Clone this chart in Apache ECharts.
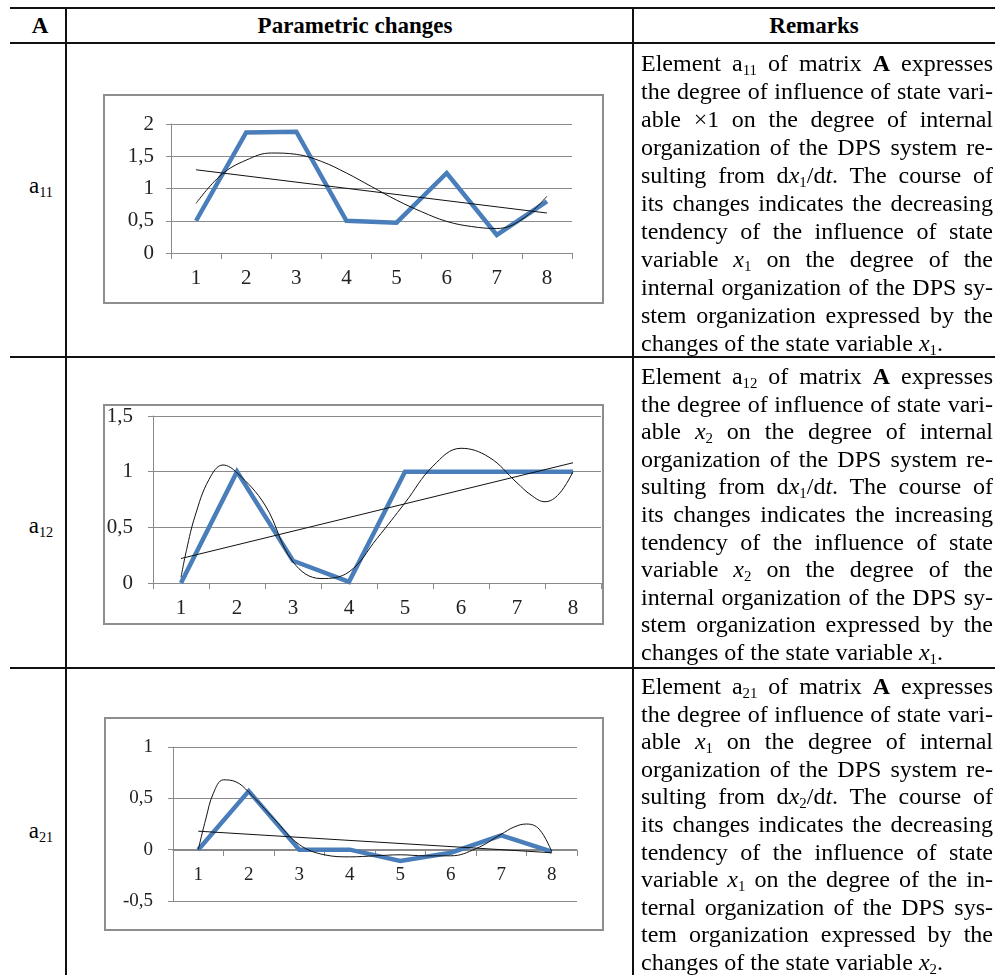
<!DOCTYPE html>
<html>
<head>
<meta charset="utf-8">
<script src="https://cdn.jsdelivr.net/npm/echarts@6/dist/echarts.min.js"></script>
<style>
  html, body { margin:0; padding:0; background:#fff; }
  body { width:995px; height:975px; position:relative; overflow:hidden; font-family:'Liberation Serif', 'Times New Roman', serif; color:#000; }
  .hl { position:absolute; height:2px; background:#111; left:10px; width:985px; }
  .vl { position:absolute; width:2px; background:#111; top:8px; height:967px; }
  .frame { position:absolute; border:2px solid #8e8e8e; box-sizing:border-box; }
  .hdr { position:absolute; font-weight:bold; font-size:23px; transform:translate(-50%,-50%); white-space:nowrap; }
  .lab { position:absolute; font-size:23px; transform:translate(-50%,-50%); white-space:nowrap; }
  .txt { position:absolute; left:641px; width:352px; font-size:24px; line-height:27.6px; z-index:3; }
  .txt div { text-align:justify; text-align-last:justify; white-space:nowrap; }
  .txt div.last { text-align-last:left; }
  sub { font-size:0.62em; vertical-align:-0.28em; line-height:0; }
  #chart { position:absolute; left:0; top:0; width:995px; height:975px; z-index:2; }
</style>
</head>
<body>
<div class="frame" style="left:103px;top:94px;width:501px;height:210px;"></div>
<div class="frame" style="left:103px;top:404px;width:501px;height:221px;"></div>
<div class="frame" style="left:104px;top:717px;width:500px;height:214px;"></div>
<div id="chart"></div>

<div class="hl" style="top:7px;"></div>
<div class="hl" style="top:42px;"></div>
<div class="hl" style="top:356px;"></div>
<div class="hl" style="top:667px;"></div>
<div class="vl" style="left:65px;"></div>
<div class="vl" style="left:632px;"></div>

<div class="hdr" style="left:40px;top:26px;">A</div>
<div class="hdr" style="left:355px;top:26px;">Parametric changes</div>
<div class="hdr" style="left:814px;top:26px;">Remarks</div>

<div class="lab" style="left:41px;top:186px;">a<sub>11</sub></div>
<div class="lab" style="left:41px;top:526px;">a<sub>12</sub></div>
<div class="lab" style="left:41px;top:831px;">a<sub>21</sub></div>

<div class="txt" style="top:49px;line-height:28px;">
<div>Element a<sub>11</sub> of matrix <b>A</b> expresses</div>
<div>the degree of influence of state vari-</div>
<div>able &times;1 on the degree of internal</div>
<div>organization of the DPS system re-</div>
<div>sulting from d<i>x</i><sub>1</sub>/d<i>t</i>. The course of</div>
<div>its changes indicates the decreasing</div>
<div>tendency of the influence of state</div>
<div>variable <i>x</i><sub>1</sub> on the degree of the</div>
<div>internal organization of the DPS sy-</div>
<div>stem organization expressed by the</div>
<div class="last">changes of the state variable <i>x</i><sub>1</sub>.</div>
</div>

<div class="txt" style="top:363px;">
<div>Element a<sub>12</sub> of matrix <b>A</b> expresses</div>
<div>the degree of influence of state vari-</div>
<div>able <i>x</i><sub>2</sub> on the degree of internal</div>
<div>organization of the DPS system re-</div>
<div>sulting from d<i>x</i><sub>1</sub>/d<i>t</i>. The course of</div>
<div>its changes indicates the increasing</div>
<div>tendency of the influence of state</div>
<div>variable <i>x</i><sub>2</sub> on the degree of the</div>
<div>internal organization of the DPS sy-</div>
<div>stem organization expressed by the</div>
<div class="last">changes of the state variable <i>x</i><sub>1</sub>.</div>
</div>

<div class="txt" style="top:673px;">
<div>Element a<sub>21</sub> of matrix <b>A</b> expresses</div>
<div>the degree of influence of state vari-</div>
<div>able <i>x</i><sub>1</sub> on the degree of internal</div>
<div>organization of the DPS system re-</div>
<div>sulting from d<i>x</i><sub>2</sub>/d<i>t</i>. The course of</div>
<div>its changes indicates the decreasing</div>
<div>tendency of the influence of state</div>
<div>variable <i>x</i><sub>1</sub> on the degree of the in-</div>
<div>ternal organization of the DPS sys-</div>
<div>tem organization expressed by the</div>
<div class="last">changes of the state variable <i>x</i><sub>2</sub>.</div>
</div>

<script>
// ---- data ----
const categories = ['1', '2', '3', '4', '5', '6', '7', '8'];

const a11Values = [0.5, 1.87, 1.88, 0.5, 0.47, 1.24, 0.28, 0.8];
const a11PolyX = [1, 1.5, 2, 2.5, 3, 3.5, 4, 4.5, 5, 5.5, 6, 6.5, 7, 7.5, 8];
const a11PolyY = [0.77, 1.21, 1.44, 1.55, 1.53, 1.42, 1.24, 1.03, 0.82, 0.64, 0.49, 0.41, 0.38, 0.52, 0.88];
const a11LinX = [1, 8];
const a11LinY = [1.29, 0.62];
const a11Ticks = [0, 0.5, 1, 1.5, 2];

const a12Values = [0, 1, 0.2, 0.01, 1, 1, 1, 1];
const a12PolyX = [1, 1.1, 1.25, 1.5, 1.75, 2, 2.5, 3, 3.5, 4, 4.5, 5, 5.5, 6, 6.5, 7, 7.25, 7.5, 7.75, 8];
const a12PolyY = [0.05, 0.3, 0.6, 0.93, 1.06, 0.99, 0.7, 0.19, 0.04, 0.1, 0.4, 0.72, 1.05, 1.21, 1.13, 0.9, 0.79, 0.73, 0.8, 1.0];
const a12LinX = [1, 8];
const a12LinY = [0.22, 1.08];
const a12Ticks = [0, 0.5, 1, 1.5];

const a21Values = [0, 0.57, 0, 0, -0.11, -0.03, 0.14, -0.02];
const a21PolyX = [1, 1.15, 1.3, 1.5, 1.75, 2, 2.5, 3, 3.5, 4, 4.5, 5, 5.5, 6, 6.5, 7, 7.25, 7.5, 7.75, 8];
const a21PolyY = [0, 0.3, 0.55, 0.68, 0.66, 0.56, 0.3, 0.05, -0.05, -0.07, -0.06, -0.05, -0.06, -0.06, 0.01, 0.15, 0.22, 0.25, 0.2, -0.02];
const a21LinX = [1, 8];
const a21LinY = [0.18, -0.03];
const a21Ticks = [-0.5, 0, 0.5, 1];

// ---- layout / style ----
const FONT = 'Liberation Serif';
const BLUE = '#4a7ebb';
const GRAY = '#8a8a8a';

const panels = [
  { vals: a11Values, px: a11PolyX, py: a11PolyY, lx: a11LinX, ly: a11LinY, ticks: a11Ticks,
    grid: { left: 171, top: 124, width: 401, height: 129 }, font: 21, xm: 15, ym: 17 },
  { vals: a12Values, px: a12PolyX, py: a12PolyY, lx: a12LinX, ly: a12LinY, ticks: a12Ticks,
    grid: { left: 153, top: 416, width: 448, height: 167 }, font: 21, xm: 15, ym: 20 },
  { vals: a21Values, px: a21PolyX, py: a21PolyY, lx: a21LinX, ly: a21LinY, ticks: a21Ticks,
    grid: { left: 173, top: 747, width: 404, height: 154 }, font: 19, xm: 16, ym: 20 }
];

const pairs = (xs, ys) => xs.map((x, i) => [x, ys[i]]);
const fmt = v => String(v).replace('.', ',');

const grids = [], xAxes = [], yAxes = [], series = [];
panels.forEach((p, i) => {
  grids.push(Object.assign({ containLabel: false }, p.grid));
  const mn = p.ticks[0], mx = p.ticks[p.ticks.length - 1];
  // place the category axis at value 0 (moves line, ticks and labels together)
  const zeroOffset = mn < 0 ? -Math.round((0 - mn) / (mx - mn) * p.grid.height) : 0;
  xAxes.push({
    type: 'category', gridIndex: i, data: categories, boundaryGap: true,
    offset: zeroOffset,
    axisLine: { show: true, onZero: false, lineStyle: { color: GRAY, width: 1 } },
    axisTick: { show: true, length: 6, lineStyle: { color: GRAY } },
    axisLabel: { fontFamily: FONT, fontSize: p.font, color: '#222', margin: p.xm },
    splitLine: { show: false }
  });
  xAxes.push({ type: 'value', gridIndex: i, min: 0.5, max: 8.5, show: false });
  yAxes.push({
    type: 'value', gridIndex: i, min: mn, max: mx, interval: 0.5,
    axisLine: { show: true, lineStyle: { color: GRAY, width: 1 } },
    axisTick: { show: true, length: 5, lineStyle: { color: GRAY } },
    axisLabel: { fontFamily: FONT, fontSize: p.font, color: '#222', margin: p.ym, formatter: v => fmt(v) },
    splitLine: { show: true, lineStyle: { color: GRAY, width: 1 } }
  });
  series.push({
    type: 'line', xAxisIndex: 2 * i, yAxisIndex: i, data: p.vals,
    showSymbol: false, symbol: 'none', z: 3,
    lineStyle: { color: BLUE, width: 4.5, join: 'miter' }
  });
  series.push({
    type: 'line', xAxisIndex: 2 * i + 1, yAxisIndex: i, data: pairs(p.px, p.py),
    smooth: 0.4, showSymbol: false, symbol: 'none', z: 4,
    lineStyle: { color: '#111', width: 1 }
  });
  series.push({
    type: 'line', xAxisIndex: 2 * i + 1, yAxisIndex: i, data: pairs(p.lx, p.ly),
    showSymbol: false, symbol: 'none', z: 4,
    lineStyle: { color: '#111', width: 1 }
  });
});

const chart = echarts.init(document.getElementById('chart'), null, { renderer: 'canvas' });
chart.setOption({
  animation: false,
  backgroundColor: 'transparent',
  grid: grids, xAxis: xAxes, yAxis: yAxes, series: series
});
</script>
</body>
</html>
